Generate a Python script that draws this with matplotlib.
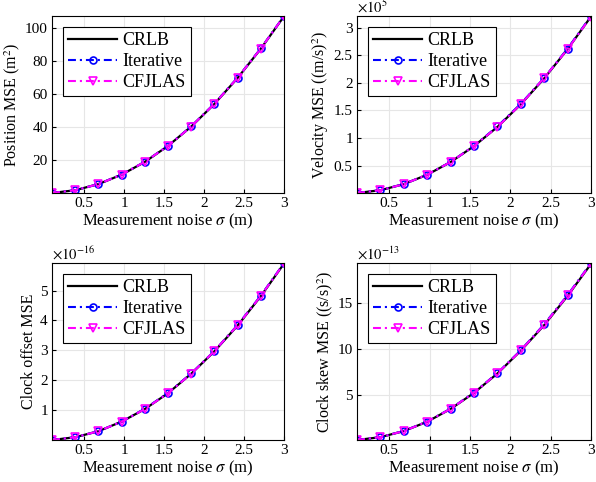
import numpy as np
import matplotlib.pyplot as plt

plt.rcParams['font.family'] = ['Liberation Serif', 'DejaVu Serif']
plt.rcParams['mathtext.fontset'] = 'stix'

sigma = [0.1, 0.39, 0.68, 0.97, 1.26, 1.55, 1.84, 2.13, 2.42, 2.71, 3.0]

# position MSE (m^2)
pos_crlb = [0.12, 1.8, 5.5, 11.2, 18.9, 28.6, 40.3, 54.0, 69.7, 87.4, 107.0]
pos_iter = [0.12, 1.8, 5.5, 11.3, 19.0, 28.7, 40.4, 54.2, 69.9, 87.6, 107.2]
pos_cfj = [0.12, 1.8, 5.5, 11.2, 19.0, 28.6, 40.3, 54.1, 69.8, 87.5, 107.1]

# velocity MSE (x1e5)
vel_crlb = [0.0036, 0.054, 0.164, 0.334, 0.564, 0.853, 1.20, 1.61, 2.08, 2.61, 3.20]
vel_iter = [0.0036, 0.055, 0.165, 0.336, 0.566, 0.856, 1.21, 1.62, 2.09, 2.62, 3.21]
vel_cfj = [0.0036, 0.054, 0.164, 0.335, 0.565, 0.855, 1.20, 1.61, 2.09, 2.61, 3.20]

# clock offset MSE (x1e-16)
off_crlb = [0.007, 0.10, 0.30, 0.62, 1.04, 1.57, 2.22, 2.97, 3.83, 4.81, 5.90]
off_iter = [0.007, 0.10, 0.30, 0.62, 1.05, 1.58, 2.23, 2.98, 3.85, 4.83, 5.92]
off_cfj = [0.007, 0.10, 0.30, 0.62, 1.04, 1.57, 2.22, 2.98, 3.84, 4.82, 5.91]

# clock skew MSE (x1e-13)
skew_crlb = [0.02, 0.33, 1.00, 2.02, 3.42, 5.18, 7.30, 9.80, 12.60, 15.80, 19.30]
skew_iter = [0.02, 0.33, 1.01, 2.04, 3.45, 5.22, 7.35, 9.85, 12.70, 15.90, 19.40]
skew_cfj = [0.02, 0.33, 1.00, 2.03, 3.43, 5.20, 7.32, 9.82, 12.65, 15.85, 19.35]

panels = [
    (pos_crlb, pos_iter, pos_cfj, 'Position MSE (m$^2$)', None, [20, 40, 60, 80, 100]),
    (vel_crlb, vel_iter, vel_cfj, 'Velocity MSE ((m/s)$^2$)', '5', [0.5, 1, 1.5, 2, 2.5, 3]),
    (off_crlb, off_iter, off_cfj, 'Clock offset MSE', '-16', [1, 2, 3, 4, 5]),
    (skew_crlb, skew_iter, skew_cfj, 'Clock skew MSE ((s/s)$^2$)', '-13', [5, 10, 15]),
]

fig = plt.figure(figsize=(5.96, 4.82), dpi=100)
W, H = 596, 482
boxes = [(52, 16, 284, 193), (357, 16, 591, 193), (52, 263, 284, 440), (357, 263, 591, 440)]

dd = (0, (3.8, 1.9, 1, 1.9))
for (crlb, it, cfj, ylab, expo, yt), (x0, y0, x1, y1) in zip(panels, boxes):
    ax = fig.add_axes([x0 / W, 1 - y1 / H, (x1 - x0) / W, (y1 - y0) / H])
    ax.plot(sigma, crlb, color='black', lw=1.6, label='CRLB')
    ax.plot(sigma, it, color='blue', lw=1.5, ls=dd, marker='o', ms=5,
            mfc='none', mew=1.2, label='Iterative')
    ax.plot(sigma, cfj, color='magenta', lw=1.5, ls=dd, marker='v', ms=6,
            mfc='none', mew=1.2, label='CFJLAS')
    ax.set_xlim(0.1, 3)
    ax.set_ylim(min(crlb), max(max(crlb), max(it), max(cfj)))
    ax.set_xticks([0.5, 1, 1.5, 2, 2.5, 3])
    ax.set_xticklabels(['0.5', '1', '1.5', '2', '2.5', '3'])
    ax.set_yticks(yt)
    ax.set_yticklabels([f'{v:g}' for v in yt])
    ax.grid(True, color='#e6e6e6', lw=0.8)
    ax.set_axisbelow(True)
    ax.tick_params(direction='in', length=3, labelsize=11, top=False, right=False, pad=3)
    for s in ax.spines.values():
        s.set_linewidth(0.8)
    ax.set_xlabel(r'Measurement noise $\sigma$ (m)', fontsize=12, labelpad=1)
    ax.set_ylabel(ylab, fontsize=11.5, labelpad=2)
    if expo is not None:
        ax.text(0, 1.0, r'$\times10^{%s}$' % expo, transform=ax.transAxes,
                fontsize=10.5, ha='left', va='bottom')
    leg = ax.legend(loc='upper left', fontsize=13, handlelength=2.7,
                    fancybox=False, framealpha=1, edgecolor='black',
                    borderpad=0.3, labelspacing=0.22, handletextpad=0.3,
                    borderaxespad=0, bbox_to_anchor=(0.047, 0.94))
    leg.get_frame().set_linewidth(0.8)

fig.savefig('out.png', dpi=100)
